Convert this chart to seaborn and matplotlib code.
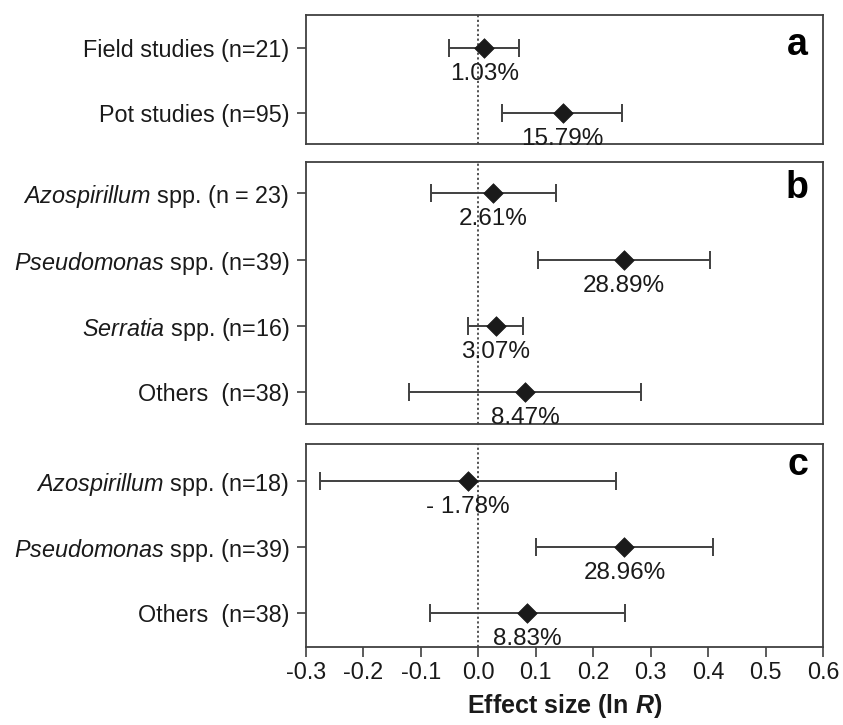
import matplotlib
matplotlib.use("Agg")
import matplotlib.pyplot as plt
import seaborn as sns
import pandas as pd

sns.set_theme(style="white")
plt.rcParams['font.family'] = ['Liberation Sans', 'DejaVu Sans']
plt.rcParams['mathtext.fontset'] = 'custom'
plt.rcParams['mathtext.rm'] = 'Liberation Sans'
plt.rcParams['mathtext.it'] = 'Liberation Sans:italic'
plt.rcParams['mathtext.bf'] = 'Liberation Sans:bold'
plt.rcParams['mathtext.bfit'] = 'Liberation Sans:italic:bold'

# ---- data ----
a_labels = ["Field studies (n=21)", "Pot studies (n=95)"]
a_mean = [0.0102, 0.1466]
a_low = [-0.051, 0.042]
a_high = [0.071, 0.250]
a_text = ["1.03%", "15.79%"]

b_labels = [r"$\mathit{Azospirillum}$ spp. (n = 23)", r"$\mathit{Pseudomonas}$ spp. (n=39)",
            r"$\mathit{Serratia}$ spp. (n=16)", "Others  (n=38)"]
b_mean = [0.0258, 0.2538, 0.0302, 0.0813]
b_low = [-0.083, 0.104, -0.018, -0.121]
b_high = [0.135, 0.404, 0.078, 0.283]
b_text = ["2.61%", "28.89%", "3.07%", "8.47%"]

c_labels = [r"$\mathit{Azospirillum}$ spp. (n=18)", r"$\mathit{Pseudomonas}$ spp. (n=39)",
            "Others  (n=38)"]
c_mean = [-0.018, 0.2544, 0.0846]
c_low = [-0.276, 0.101, -0.085]
c_high = [0.240, 0.408, 0.256]
c_text = ["- 1.78%", "28.96%", "8.83%"]

panel_letters = ["a", "b", "c"]
x_ticks = [-0.3, -0.2, -0.1, 0.0, 0.1, 0.2, 0.3, 0.4, 0.5, 0.6]
x_ticklabels = ["-0.3", "-0.2", "-0.1", "0.0", "0.1", "0.2", "0.3", "0.4", "0.5", "0.6"]

panels = [
    (a_labels, a_mean, a_low, a_high, a_text),
    (b_labels, b_mean, b_low, b_high, b_text),
    (c_labels, c_mean, c_low, c_high, c_text),
]

W, H = 843, 725
fig = plt.figure(figsize=(W / 100, H / 100), dpi=100)
left, right = 306, 823
boxes = [(15, 144), (162, 424), (444, 647)]
ylims = [(1.47, -0.50), (3.48, -0.47), (2.51, -0.56)]
letter_off = [30, 26, 21]

dark = "#1a1a1a"
frame = "#404040"

for i, (labels, mean, low, high, texts) in enumerate(panels):
    top, bot = boxes[i]
    ax = fig.add_axes([left / W, 1 - bot / H, (right - left) / W, (bot - top) / H])
    df = pd.DataFrame({"label": labels, "mean": mean, "low": low, "high": high, "text": texts})
    pos = list(range(len(df)))
    ax.errorbar(df["mean"], pos,
                xerr=[df["mean"] - df["low"], df["high"] - df["mean"]],
                fmt="none", ecolor=frame, elinewidth=1.4, capsize=6.5, capthick=1.4, zorder=2)
    sns.scatterplot(data=df, x="mean", y="label", marker="D", s=100, color="#1a1a1a",
                    edgecolor="#1a1a1a", linewidth=0.5, ax=ax, zorder=3)
    ax.axvline(0, color="#444444", linestyle=(0, (1.2, 1.4)), linewidth=1.3, zorder=1)
    for p, (m, t) in enumerate(zip(df["mean"], df["text"])):
        ax.annotate(t, xy=(m, p), xytext=(0, -26), textcoords="offset pixels",
                    ha="center", va="center", fontsize=17.5, color=dark)
    ax.set_xlim(-0.3, 0.6)
    ax.set_ylim(*ylims[i])
    ax.set_xlabel("")
    ax.set_ylabel("")
    ax.set_yticks(pos)
    ax.set_yticklabels(labels)
    ax.tick_params(axis="y", which="both", left=True, length=6.5, width=1.2, color=frame,
                   pad=5.5, labelsize=16.8, labelcolor=dark)
    for s in ax.spines.values():
        s.set_color(frame)
        s.set_linewidth(1.3)
    if i < 2:
        ax.set_xticks([])
    else:
        ax.set_xticks(x_ticks)
        ax.set_xticklabels(x_ticklabels)
        ax.tick_params(axis="x", which="both", bottom=True, length=7.2, width=1.2, color=frame,
                       pad=3, labelsize=16.8, labelcolor=dark)
        ax.set_xlabel(r"Effect size (ln $\mathbfit{R}$)", fontsize=18, fontweight="bold",
                      color=dark, labelpad=6)
    ax.annotate(panel_letters[i], xy=(1, 1), xycoords="axes fraction",
                xytext=(-15, -letter_off[i]), textcoords="offset pixels",
                ha="right", va="center", fontsize=27, fontweight="bold", color="black")

fig.savefig("out.png", dpi=100)
